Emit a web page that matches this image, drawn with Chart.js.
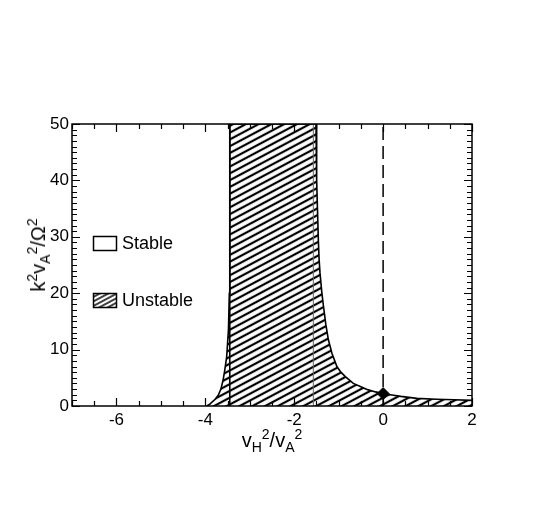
<!DOCTYPE html>
<html>
<head>
<meta charset="utf-8">
<script src="https://cdn.jsdelivr.net/npm/chart.js@4.4.0/dist/chart.umd.min.js"></script>
<style>
  body { margin: 0; background: #fff; }
  #wrap { position: relative; width: 545px; height: 529px; font-family: "Liberation Sans", Arial, sans-serif; }
  #wrap canvas { position: absolute; left: 0; top: 0; }
  .lbl { position: absolute; font-size: 20px; line-height: 1; color: #000; white-space: nowrap; }
  .lbl sup, .lbl sub { font-size: 14px; line-height: 0; }
  #ylab { left: 38px; top: 255px; transform: translate(-50%, -50%) rotate(-90deg); }
  #xlab { left: 272px; top: 440px; transform: translate(-50%, -50%); }
</style>
</head>
<body>
<div id="wrap">
  <canvas id="chart" width="545" height="529"></canvas>
  <div class="lbl" id="ylab">k<sup>2</sup>v<sub>A</sub><sup>2</sup>/&Omega;<sup>2</sup></div>
  <div class="lbl" id="xlab">v<sub>H</sub><sup>2</sup>/v<sub>A</sub><sup>2</sup></div>
</div>
<script>
// left branch of the marginal curve (rises into the wall near -3.45)
const leftX = [-3.97, -3.90, -3.85, -3.78, -3.71, -3.65, -3.60, -3.56, -3.52, -3.48, -3.46, -3.45, -3.45];
const leftY = [0, 0.3, 0.7, 1.2, 1.9, 3.0, 4.6, 6.5, 8.7, 13.5, 20, 30, 50];
// right branch (comes down from the top near -1.5)
const rightX = [-1.51, -1.50, -1.49, -1.47, -1.457, -1.44, -1.42, -1.38, -1.34, -1.29, -1.23, -1.15, -1.04,
    -0.95, -0.85, -0.67, -0.50, -0.35, -0.17, 0, 0.2, 0.4, 0.76, 1.2, 1.6, 2];
const rightY = [50, 45, 40, 33, 29.4, 26, 23.6, 20.2, 17.6, 14.5, 11.7, 9.3, 7.0,
    6.0, 5.2, 4.0, 3.4, 2.9, 2.5, 2.2, 1.95, 1.7, 1.36, 1.2, 1.1, 1.0];

const xTickLabels = [-6, -4, -2, 0, 2];
const yTickLabels = [0, 10, 20, 30, 40, 50];
const xRange = [-7, 2];
const yRange = [0, 50];

const wallLeft = -3.45;
const wallRight = -1.57;
const markX = 0;
const markY = 2.2;

const legendItems = ['Stable', 'Unstable'];

const FONT = '"Liberation Sans", Arial, sans-serif';

function hatch(ctx, gap, lw, angle) {
    const c = document.createElement('canvas');
    c.width = 16;
    c.height = gap;
    const g = c.getContext('2d');
    g.fillStyle = '#000';
    g.fillRect(0, (gap - lw) / 2, 16, lw);
    const p = ctx.createPattern(c, 'repeat');
    p.setTransform(new DOMMatrix().rotateSelf(angle));
    return p;
}

const ctx = document.getElementById('chart').getContext('2d');
const regionFill = hatch(ctx, 6, 2.2, -28);
const legendFill = hatch(ctx, 4, 1.5, -28);

const region = leftX.map((x, i) => ({ x: x, y: leftY[i] }))
    .concat(rightX.map((x, i) => ({ x: x, y: rightY[i] })));

// frame, inward ticks and the legend
const framePlugin = {
    id: 'frame',
    afterDraw(chart) {
        const { ctx, chartArea: a, scales: { x, y } } = chart;
        ctx.save();
        ctx.strokeStyle = '#000';
        ctx.lineWidth = 1.5;
        ctx.strokeRect(a.left, a.top, a.right - a.left, a.bottom - a.top);

        ctx.lineWidth = 1.2;
        ctx.beginPath();
        for (let v = xRange[0]; v <= xRange[1] + 1e-9; v += 0.5) {
            const px = Math.round(x.getPixelForValue(v)) + 0.5;
            const len = xTickLabels.includes(v) ? 8 : 5;
            ctx.moveTo(px, a.bottom); ctx.lineTo(px, a.bottom - len);
            ctx.moveTo(px, a.top); ctx.lineTo(px, a.top + len);
        }
        for (let v = yRange[0]; v <= yRange[1]; v += 1) {
            const py = Math.round(y.getPixelForValue(v)) + 0.5;
            const len = yTickLabels.includes(v) ? 8 : 5;
            ctx.moveTo(a.left, py); ctx.lineTo(a.left + len, py);
            ctx.moveTo(a.right, py); ctx.lineTo(a.right - len, py);
        }
        ctx.stroke();

        // legend
        const boxes = [[93.5, 236.5], [93.5, 293.5]];
        ctx.font = '18px ' + FONT;
        ctx.textBaseline = 'middle';
        legendItems.forEach((t, i) => {
            const [bx, by] = boxes[i];
            ctx.fillStyle = '#fff';
            ctx.fillRect(bx, by, 23, 14);
            if (i === 1) {
                ctx.fillStyle = legendFill;
                ctx.fillRect(bx, by, 23, 14);
            }
            ctx.lineWidth = 1.5;
            ctx.strokeStyle = '#000';
            ctx.strokeRect(bx, by, 23, 14);
            ctx.fillStyle = '#000';
            ctx.fillText(t, 122, by + 7.5);
        });
        ctx.restore();
    }
};

new Chart(ctx, {
    type: 'line',
    data: {
        datasets: [
            {
                data: region,
                order: 5,
                fill: 'origin',
                backgroundColor: regionFill,
                borderColor: '#000',
                borderWidth: 1.6,
                pointRadius: 0,
                tension: 0
            },
            {
                data: [{ x: wallLeft, y: yRange[0] }, { x: wallLeft, y: yRange[1] }],
                order: 3,
                borderColor: '#000',
                borderWidth: 1.6,
                pointRadius: 0
            },
            {
                data: [{ x: wallRight, y: yRange[0] }, { x: wallRight, y: yRange[1] }],
                order: 3,
                borderColor: '#666',
                borderWidth: 1,
                pointRadius: 0
            },
            {
                data: [{ x: markX, y: yRange[0] }, { x: markX, y: yRange[1] }],
                order: 2,
                borderColor: '#000',
                borderWidth: 1.5,
                borderDash: [13, 6],
                pointRadius: 0
            },
            {
                data: [{ x: markX, y: markY }],
                order: 1,
                showLine: false,
                pointStyle: 'rectRot',
                pointRadius: 6,
                backgroundColor: '#000',
                borderColor: '#000'
            }
        ]
    },
    options: {
        responsive: false,
        animation: false,
        events: [],
        layout: { padding: { left: 0, top: 124, right: 73, bottom: 93 } },
        plugins: { legend: { display: false }, tooltip: { enabled: false } },
        scales: {
            x: {
                type: 'linear',
                min: xRange[0],
                max: xRange[1],
                grid: { display: false, drawTicks: false },
                border: { display: false },
                afterBuildTicks: s => { s.ticks = xTickLabels.map(v => ({ value: v })); },
                afterFit: s => { s.height = 30; },
                ticks: { color: '#000', font: { size: 17, family: FONT }, padding: 4, maxRotation: 0, autoSkip: false }
            },
            y: {
                min: yRange[0],
                max: yRange[1],
                grid: { display: false, drawTicks: false },
                border: { display: false },
                afterBuildTicks: s => { s.ticks = yTickLabels.map(v => ({ value: v })); },
                afterFit: s => { s.width = 72; },
                ticks: { color: '#000', font: { size: 17, family: FONT }, padding: 3, autoSkip: false }
            }
        }
    },
    plugins: [framePlugin]
});
</script>
</body>
</html>
